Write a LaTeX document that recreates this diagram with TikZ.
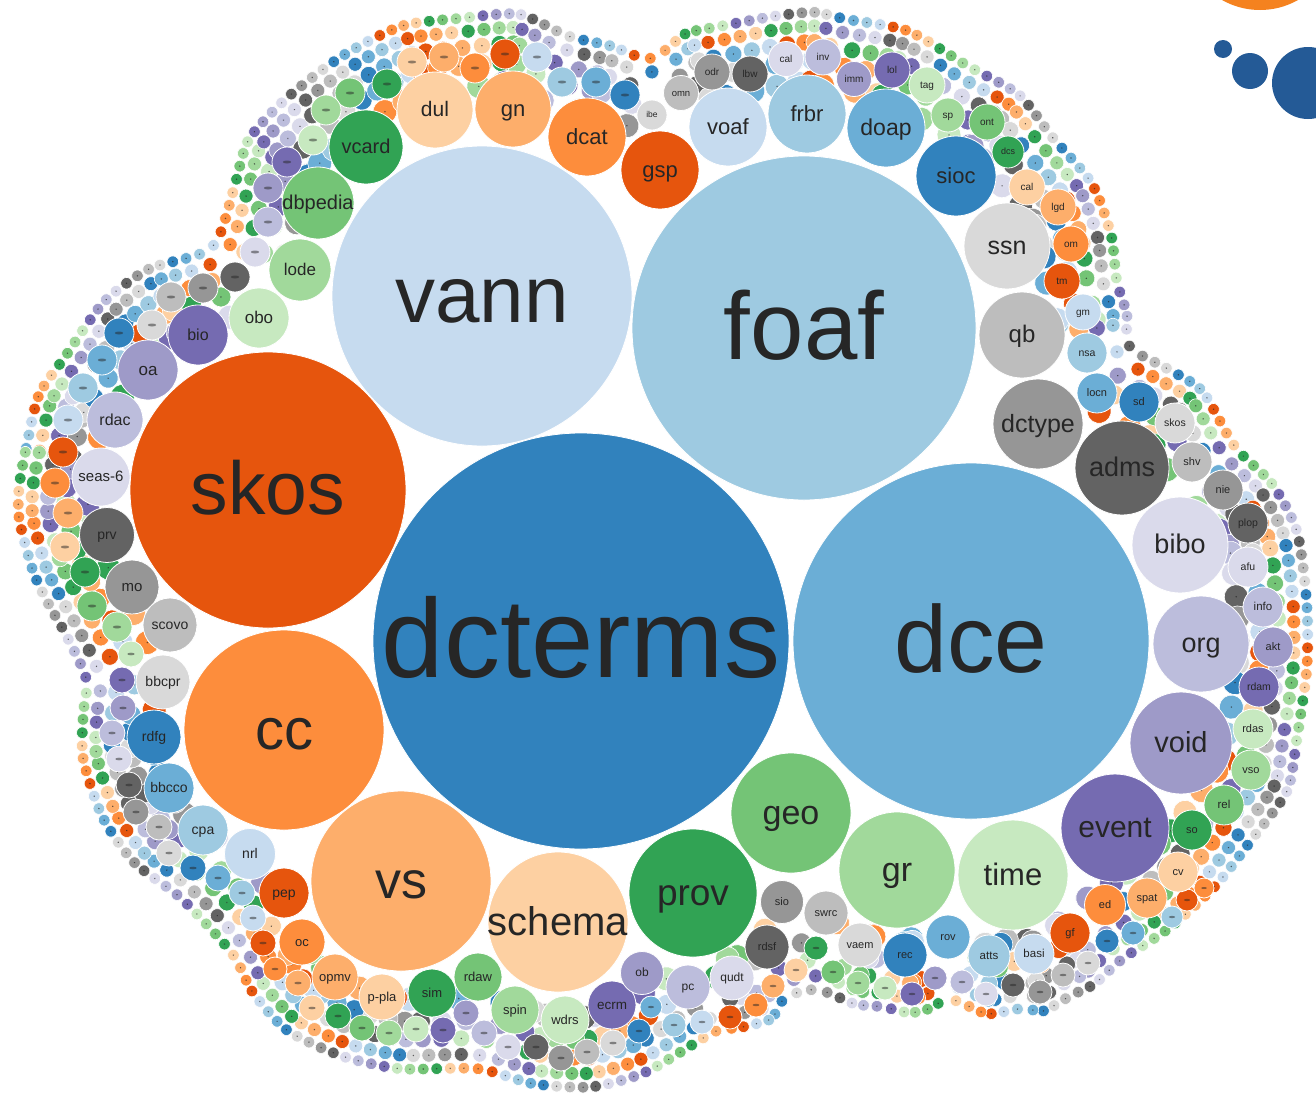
\documentclass[tikz,border=0pt]{standalone}
\usepackage{fontspec}
\setmainfont{Liberation Sans}
\usetikzlibrary{decorations.markings}
\definecolor{c0}{HTML}{3182BD}\definecolor{c1}{HTML}{6BAED6}\definecolor{c2}{HTML}{9ECAE1}\definecolor{c3}{HTML}{C6DBEF}
\definecolor{c4}{HTML}{E6550D}\definecolor{c5}{HTML}{FD8D3C}\definecolor{c6}{HTML}{FDAE6B}\definecolor{c7}{HTML}{FDD0A2}
\definecolor{c8}{HTML}{31A354}\definecolor{c9}{HTML}{74C476}\definecolor{c10}{HTML}{A1D99B}\definecolor{c11}{HTML}{C7E9C0}
\definecolor{c12}{HTML}{756BB1}\definecolor{c13}{HTML}{9E9AC8}\definecolor{c14}{HTML}{BCBDDC}\definecolor{c15}{HTML}{DADAEB}
\definecolor{c16}{HTML}{636363}\definecolor{c17}{HTML}{969696}\definecolor{c18}{HTML}{BDBDBD}\definecolor{c19}{HTML}{D9D9D9}
\definecolor{txt}{HTML}{262626}
\definecolor{logoor}{HTML}{F5821F}
\definecolor{logobl}{HTML}{245A96}
\tikzset{
  bubble/.style={circle, draw=white, line width=0.8pt, inner sep=0pt, outer sep=0pt},
  logodot/.style={circle, inner sep=0pt, outer sep=0pt},
  bubtext/.style={text=txt, inner sep=0pt, anchor=base},
  smudge/.style={fill=txt, fill opacity=0.5},
}
\begin{document}
\begin{tikzpicture}[x=1pt,y=-1pt]
\fill[white] (0,0) rectangle (1316,1100);
\useasboundingbox (0,0) rectangle (1316,1100);
\clip (0,0) rectangle (1316,1100);

% corner marks
\node[logodot, fill=logoor, minimum size=154pt] (logo1) at (1260,-67) {};
\node[logodot, fill=logobl, minimum size=18pt] (logo2) at (1223,49) {};
\node[logodot, fill=logobl, minimum size=36pt] (logo3) at (1250,71) {};
\node[logodot, fill=logobl, minimum size=72pt] (logo4) at (1308,83) {};

% outer layers of tiny bubbles along the envelope
\foreach \off/\rr/\st/\lay in {6.3/5.8/13.5pt/0, 20/7/16pt/5, 36/8.5/19pt/10, 54/10/22pt/15, 76/12/26pt/3} {
  \path[decorate, decoration={markings, mark=between positions 0 and 1 step \st with {
      \pgfmathtruncatemacro\ci{mod(\pgfkeysvalueof{/pgf/decoration/mark info/sequence number}+\lay,20)}
      \path[fill=c\ci, draw=white, line width=0.6pt] (0pt,-\off pt) circle (\rr pt);
      \fill[txt, fill opacity=0.7] (0pt,-\off pt) circle (0.8pt);
    }}]
    plot[smooth cycle, tension=0.45] coordinates {(13,485) (20,447) (33,393) (60,353) (100,297) (147,263) (207,243) (227,190) (243,137) (283,93) (340,50) (400,20) (460,12) (520,8) (570,30) (613,40) (650,52) (683,28) (720,20) (773,10) (815,6) (847,13) (910,25) (970,60) (1023,90) (1057,133) (1097,180) (1117,233) (1123,280) (1133,313) (1135,343) (1170,363) (1207,387) (1240,443) (1277,480) (1303,530) (1313,603) (1313,670) (1303,740) (1293,793) (1257,843) (1220,890) (1173,933) (1126,964) (1098,989) (1074,1001) (1045,1017) (1021,1015) (986,1020) (951,1006) (930,1015) (909,1019) (881,1013) (853,1010) (817,996) (789,1003) (775,1024) (740,1034) (716,1038) (650,1077) (593,1093) (533,1090) (477,1075) (400,1075) (340,1062) (283,1035) (247,995) (227,957) (177,903) (130,867) (97,820) (77,760) (77,713) (80,680) (60,637) (43,607) (27,573) (13,520)};
}

% second ring of small bubbles
\foreach \x/\y/\r/\col [count=\i] in {
 625/95/15/0, 596/82/15/1, 562/82/15/2, 537/57/15/3, 505/54/15/4, 475/68/15/5, 444/57/15/6, 412/62/15/7,
 387/84/15/8, 350/93/15/9, 326/110/15/10, 313/140/15/11, 287/162/15/12, 268/188/15/13, 268/222/15/14,
 255/252/15/15, 235/277/15/16, 203/288/15/17, 171/297/15/18, 152/325/15/19, 119/333/15/0, 102/360/15/1,
 83/388/15/2, 68/420/15/3, 63/452/15/4, 55/483/15/5, 68/513/15/6, 65/547/15/7, 85/572/15/8, 92/606/15/9,
 117/627/15/10, 131/654/13/11, 122/680/13/12, 123/708/13/13, 112/733/13/14, 119/759/13/15, 129/785/13/16,
 136/812/13/17, 159/827/13/18, 169/853/13/19, 193/868/13/0, 218/878/13/1, 242/893/13/2, 253/918/13/3,
 263/943/13/4, 275/969/12/5, 298/983/13/6, 312/1008/13/7, 338/1016/13/8, 362/1028/13/9, 389/1033/13/10,
 416/1029/13/11, 443/1030/13/12, 466/1013/13/13, 484/1033/13/14, 508/1047/13/15, 536/1047/13/16,
 561/1058/13/17, 587/1052/13/18, 613/1043/13/19, 639/1031/12/0, 651/1007/11/1, 674/1025/12/2,
 702/1022/12/3, 730/1017/12/4, 756/1005/12/5, 773/986/12/6, 796/970/12/7, 816/948/12/8, 833/972/12/9,
 858/983/12/10, 885/988/12/11, 912/994/12/12, 935/978/12/13, 962/982/12/14, 986/994/12/15,
 1013/985/12/16, 1040/992/12/17, 1063/975/12/18, 1088/963/12/19, 1107/941/12/0, 1133/933/12/1,
 1172/917/11/2, 1187/900/11/4, 1204/888/10/5} {
  \node[bubble, fill=c\col, minimum size={2*\r pt}] (s\i) at (\x,\y) {};
  \fill[smudge] (s\i.center) circle [x radius={0.28*\r pt}, y radius={0.1*\r pt}];
}

% labelled bubbles
\foreach \x/\y/\r/\col/\fs/\lab [count=\i] in {
 581/641/208/0/112/dcterms, 971/641/178/1/95/dce, 804/328/172/2/96/foaf, 482/296/150/3/80/vann,
 268/490/138/4/75/skos, 284/730/100/5/58/cc, 401/881/90/6/52/vs, 558/922/70/7/40/schema,
 693/893/64/8/37/prov, 791/813/60/9/34/geo, 897/870/58/10/34/gr, 1013/875/55/11/31/time,
 1115/828/54/12/30/event, 1181/743/51/13/29/void, 1201/644/48/14/27/org, 1180/545/48/15/27/bibo,
 1122/468/47/16/27/adms, 1038/424/45/17/25/dctype, 1022/335/43/18/24/qb, 1007/246/43/19/25/ssn,
 956/176/40/0/22/sioc, 886/128/39/1/23/doap, 807/114/39/2/22/frbr, 728/127/39/3/22/voaf,
 660/170/39/4/22/gsp, 587/137/39/5/22/dcat, 513/109/38/6/22/gn, 435/110/38/7/21/dul,
 366/147/37/8/20/vcard, 318/203/36/9/20/dbpedia, 300/270/31/10/17/lode, 259/318/30/11/17/obo,
 198/335/30/12/16/bio, 148/370/30/13/17/oa, 115/420/28/14/16/rdac, 101/477/29/15/15/seas-6,
 107/535/27.5/16/14/prv, 132/587/27/17/15/mo, 170/625/27/18/14/scovo, 163/682/27/19/14/bbcpr,
 154/737/27/0/14/rdfg, 169/788/25/1/14/bbcco, 203/830/25/2/14/cpa, 250/854/25.5/3/14/nrl,
 284/893/25/4/14/pep, 302/942/23/5/13/oc, 335/977/23/6/13/opmv, 382/997/23/7/13/p-pla,
 432/993/24/8/13/sim, 478/977/24/9/13/rdaw, 515/1010/24/10/13/spin, 565/1020/24/11/13/wdrs,
 612/1005/24/12/13.5/ecrm, 642/973/21.5/13/12/ob, 688/987/22/14/12/pc, 732/978/22/15/12/qudt,
 767/947/22/16/11/rdsf, 782/902/21.5/17/11/sio, 826/913/22/18/11/swrc, 860/945/22/19/11/vaem,
 905/955/22/0/11/rec, 948/937/22/1/11/rov, 989/956/21/2/11.5/atts, 1034/954/20/3/11.5/basi,
 1070/933/20/4/11/gf, 1105/905/20.5/5/11/ed, 1147/898/20/6/11/spat, 1178/872/20/7/11/cv,
 1192/830/20/8/11/so, 1224/805/20/9/11.5/rel, 1251/770/20/10/11/vso, 1253/729/20/11/11/rdas,
 1259/687/20/12/10.5/rdam, 1273/647/20/13/11/akt, 1263/607/20/14/11.5/info, 1248/567/20/15/10.5/afu,
 1248/523/20/16/10.5/plop, 1223/490/20/17/11/nie, 1192/462/20/18/11/shv, 1175/423/20/19/10.5/skos,
 1139/402/20/0/11/sd, 1097/393/20/1/11/locn, 1087/353/20/2/10.5/nsa, 1083/312/18/3/10/gm,
 1062/281/18/4/10/tm, 1071/244/18/5/10/om, 1058/207/18/6/10/lgd, 1027/187/18/7/10/cal,
 1008/152/16/8/9/dcs, 987/122/18/9/10/ont, 948/115/17/10/10/sp, 927/85/18/11/10/tag,
 892/70/18/12/10/lol, 854/79/17.5/13/10/imm, 823/57/18/14/10/inv, 786/59/17.5/15/10/cal,
 750/74/18/16/10/lbw, 712/72/18/17/10/odr, 681/93/17.5/18/9.5/omn, 652/115/15/19/8.5/ibe} {
  \node[bubble, fill=c\col, minimum size={2*\r pt}] (b\i) at (\x,\y) {};
  \node[bubtext, font=\fontsize{\fs}{\fs}\selectfont] (t\i) at (\x,{\y+0.33*\fs}) {\lab};
}
\end{tikzpicture}
\end{document}
